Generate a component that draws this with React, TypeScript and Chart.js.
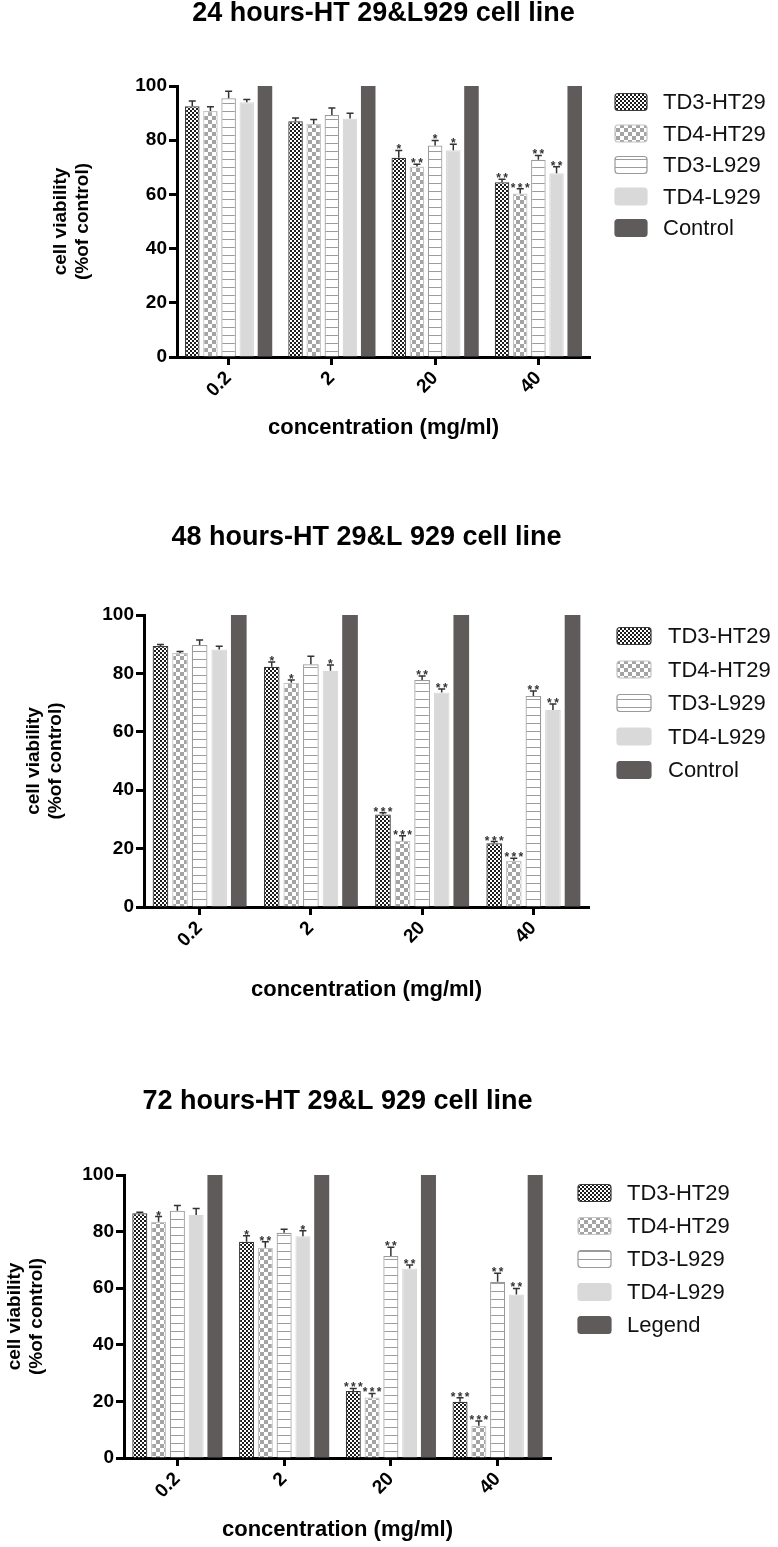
import React, { useEffect, useRef } from 'react';
import { Chart, registerables } from 'chart.js';

Chart.register(...registerables);

// ---------- DATA ----------
const categories = ['0.2', '2', '20', '40'];
const seriesLabels = ['TD3-HT29', 'TD4-HT29', 'TD3-L929', 'TD4-L929'];
const controlValues = [100, 100, 100, 100];

// 24 hours
const h24TD3HT29 = [92.5, 87.0, 73.5, 64.5];
const h24TD4HT29 = [90.8, 86.0, 70.3, 60.3];
const h24TD3L929 = [95.5, 89.3, 78.0, 72.8];
const h24TD4L929 = [94.0, 88.0, 76.3, 67.8];
const h24TD3HT29Err = [2.0, 1.2, 2.7, 1.1];
const h24TD4HT29Err = [1.5, 1.6, 0.8, 1.8];
const h24TD3L929Err = [2.6, 2.6, 1.9, 1.6];
const h24TD4L929Err = [1.0, 1.9, 2.2, 2.4];
const h24TD3HT29Sig = ['', '', '*', '**'];
const h24TD4HT29Sig = ['', '', '**', '***'];
const h24TD3L929Sig = ['', '', '*', '**'];
const h24TD4L929Sig = ['', '', '*', '**'];

// 48 hours
const h48TD3HT29 = [89.4, 82.3, 31.7, 21.8];
const h48TD4HT29 = [87.0, 76.8, 22.7, 15.8];
const h48TD3L929 = [89.7, 83.1, 77.7, 72.3];
const h48TD4L929 = [88.2, 80.9, 73.5, 67.5];
const h48TD3HT29Err = [0.5, 1.6, 0.6, 0.6];
const h48TD4HT29Err = [0.5, 0.9, 1.7, 0.9];
const h48TD3L929Err = [1.7, 2.8, 1.4, 1.7];
const h48TD4L929Err = [1.1, 2.0, 1.2, 2.0];
const h48TD3HT29Sig = ['', '*', '***', '***'];
const h48TD4HT29Sig = ['', '*', '***', '***'];
const h48TD3L929Sig = ['', '', '**', '**'];
const h48TD4L929Sig = ['', '*', '**', '**'];

// 72 hours
const h72TD3HT29 = [86.5, 76.4, 23.7, 19.9];
const h72TD4HT29 = [83.5, 74.3, 21.4, 11.4];
const h72TD3L929 = [87.4, 79.6, 71.4, 62.3];
const h72TD4L929 = [85.9, 78.4, 67.0, 57.8];
const h72TD3HT29Err = [0.3, 2.1, 0.9, 1.4];
const h72TD4HT29Err = [1.8, 2.1, 1.4, 1.7];
const h72TD3L929Err = [1.8, 1.2, 3.1, 3.0];
const h72TD4L929Err = [2.3, 1.9, 1.2, 2.1];
const h72TD3HT29Sig = ['', '*', '***', '***'];
const h72TD4HT29Sig = ['*', '**', '***', '***'];
const h72TD3L929Sig = ['', '', '**', '**'];
const h72TD4L929Sig = ['', '*', '**', '**'];

const yTicks = [0, 20, 40, 60, 80, 100];
const yTitleLines = ['cell viability', '(%of control)'];
const xTitle = 'concentration (mg/ml)';

const FONT = "'Liberation Sans', Arial, Helvetica, sans-serif";

const panels = [
  {
    title: '24 hours-HT 29&L929 cell line',
    controlLabel: 'Control',
    values: [h24TD3HT29, h24TD4HT29, h24TD3L929, h24TD4L929],
    errors: [h24TD3HT29Err, h24TD4HT29Err, h24TD3L929Err, h24TD4L929Err],
    sigs: [h24TD3HT29Sig, h24TD4HT29Sig, h24TD3L929Sig, h24TD4L929Sig],
    top: 0, height: 470,
    pad: { top: 0, left: 0, right: 188, bottom: 13 },
    titlePadBottom: 59,
    yWidth: 177, xHeight: 100,
    yTitlePadTop: 49, xTitlePadBottom: 16,
    legend: { boxX: 615, y0: 102, step: 31.5, textX: 663, boxW: 32 },
  },
  {
    title: '48 hours-HT 29&L 929 cell line',
    controlLabel: 'Control',
    values: [h48TD3HT29, h48TD4HT29, h48TD3L929, h48TD4L929],
    errors: [h48TD3HT29Err, h48TD4HT29Err, h48TD3L929Err, h48TD4L929Err],
    sigs: [h48TD3HT29Sig, h48TD4HT29Sig, h48TD3L929Sig, h48TD4L929Sig],
    top: 500, height: 520,
    pad: { top: 24, left: 0, right: 189, bottom: 13 },
    titlePadBottom: 64,
    yWidth: 144, xHeight: 100,
    yTitlePadTop: 22, xTitlePadBottom: 4,
    legend: { boxX: 617, y0: 136, step: 33.5, textX: 668, boxW: 34 },
  },
  {
    title: '72 hours-HT 29&L 929 cell line',
    controlLabel: 'Legend',
    values: [h72TD3HT29, h72TD4HT29, h72TD3L929, h72TD4L929],
    errors: [h72TD3HT29Err, h72TD4HT29Err, h72TD3L929Err, h72TD4L929Err],
    sigs: [h72TD3HT29Sig, h72TD4HT29Sig, h72TD3L929Sig, h72TD4L929Sig],
    top: 1060, height: 487,
    pad: { top: 28, left: 0, right: 227, bottom: 4 },
    titlePadBottom: 60,
    yWidth: 124, xHeight: 85,
    yTitlePadTop: 3, xTitlePadBottom: 0,
    legend: { boxX: 578, y0: 133, step: 33, textX: 627, boxW: 33 },
  },
];

function makePattern(w: number, h: number, draw: (c: CanvasRenderingContext2D) => void) {
  const c = document.createElement('canvas');
  c.width = w;
  c.height = h;
  const ctx = c.getContext('2d')!;
  draw(ctx);
  return ctx.createPattern(c, 'repeat')!;
}

function makeStyles() {
  const fine = makePattern(4, 4, (c) => {
    c.fillStyle = '#ffffff';
    c.fillRect(0, 0, 4, 4);
    c.fillStyle = '#1c1c1c';
    c.fillRect(0, 0, 2, 2);
    c.fillRect(2, 2, 2, 2);
  });
  const coarse = makePattern(8, 8, (c) => {
    c.fillStyle = '#ffffff';
    c.fillRect(0, 0, 8, 8);
    c.fillStyle = '#a4a4a4';
    c.fillRect(0, 0, 4, 4);
    c.fillRect(4, 4, 4, 4);
  });
  const lines = makePattern(8, 8, (c) => {
    c.fillStyle = '#ffffff';
    c.fillRect(0, 0, 8, 8);
    c.fillStyle = '#9c9c9c';
    c.fillRect(0, 7, 8, 1);
  });
  return [
    { bg: fine, border: '#3a3a3a' },
    { bg: coarse, border: '#c4c4c4' },
    { bg: lines, border: '#9a9a9a' },
    { bg: '#d9d9d9', border: '#d9d9d9' },
    { bg: '#5f5b5a', border: '#5f5b5a' },
  ];
}

function roundRect(ctx: CanvasRenderingContext2D, x: number, y: number, w: number, h: number, r: number) {
  ctx.beginPath();
  ctx.moveTo(x + r, y);
  ctx.lineTo(x + w - r, y);
  ctx.quadraticCurveTo(x + w, y, x + w, y + r);
  ctx.lineTo(x + w, y + h - r);
  ctx.quadraticCurveTo(x + w, y + h, x + w - r, y + h);
  ctx.lineTo(x + r, y + h);
  ctx.quadraticCurveTo(x, y + h, x, y + h - r);
  ctx.lineTo(x, y + r);
  ctx.quadraticCurveTo(x, y, x + r, y);
  ctx.closePath();
}

function Panel({ cfg }: { cfg: any }) {
  const ref = useRef<HTMLCanvasElement>(null);
  useEffect(() => {
    const canvas = ref.current!;
    const styles = makeStyles();
    const datasets: any[] = cfg.values.map((vals: number[], i: number) => ({
      label: seriesLabels[i],
      data: vals,
      errors: cfg.errors[i],
      sigs: cfg.sigs[i],
      backgroundColor: styles[i].bg,
      borderColor: styles[i].border,
      borderWidth: 1.2,
      categoryPercentage: 0.88,
      barPercentage: 0.8,
    }));
    datasets.push({
      label: cfg.controlLabel,
      data: controlValues,
      backgroundColor: styles[4].bg,
      borderColor: styles[4].border,
      borderWidth: 0,
      categoryPercentage: 0.88,
      barPercentage: 0.8,
    });

    const decor = {
      id: 'decor',
      afterDatasetsDraw(chart: any) {
        const ctx = chart.ctx as CanvasRenderingContext2D;
        const yScale = chart.scales.y;
        ctx.save();
        chart.data.datasets.forEach((ds: any, d: number) => {
          if (!ds.errors) return;
          const meta = chart.getDatasetMeta(d);
          meta.data.forEach((bar: any, i: number) => {
            const v = ds.data[i];
            const e = ds.errors[i];
            const yTop = yScale.getPixelForValue(v + e);
            const yVal = yScale.getPixelForValue(v);
            ctx.strokeStyle = '#333';
            ctx.lineWidth = 1.5;
            ctx.beginPath();
            ctx.moveTo(bar.x, yVal);
            ctx.lineTo(bar.x, yTop);
            ctx.moveTo(bar.x - 3.5, yTop);
            ctx.lineTo(bar.x + 3.5, yTop);
            ctx.stroke();
            const s = ds.sigs[i];
            if (s) {
              ctx.fillStyle = '#333';
              ctx.font = `bold 12px ${FONT}`;
              ctx.textAlign = 'center';
              ctx.textBaseline = 'alphabetic';
              ctx.fillText(s.split('').join('\u2009'), bar.x, yTop + 3);
            }
          });
        });
        ctx.restore();
      },
      afterDraw(chart: any) {
        const ctx = chart.ctx as CanvasRenderingContext2D;
        const lg = cfg.legend;
        ctx.save();
        chart.data.datasets.forEach((ds: any, d: number) => {
          const cy = lg.y0 + d * lg.step;
          const bh = 17;
          roundRect(ctx, lg.boxX, cy - bh / 2, lg.boxW, bh, 3);
          ctx.fillStyle = ds.backgroundColor;
          ctx.fill();
          ctx.strokeStyle = ds.borderColor;
          ctx.lineWidth = 1.2;
          ctx.stroke();
          ctx.fillStyle = '#111';
          ctx.font = `22px ${FONT}`;
          ctx.textAlign = 'left';
          ctx.textBaseline = 'middle';
          ctx.fillText(ds.label, lg.textX, cy + 1);
        });
        ctx.restore();
      },
    };

    const chart = new Chart(canvas, {
      type: 'bar',
      data: { labels: categories, datasets },
      options: {
        responsive: false,
        animation: false,
        devicePixelRatio: 1,
        layout: { padding: cfg.pad },
        plugins: {
          legend: { display: false },
          tooltip: { enabled: false },
          title: {
            display: true,
            text: cfg.title,
            fullSize: false,
            color: '#000',
            font: { family: FONT, size: 27, weight: 'bold', lineHeight: 1 },
            padding: { top: 0, bottom: cfg.titlePadBottom },
          },
        },
        scales: {
          x: {
            offset: true,
            afterFit: (scale: any) => { scale.height = cfg.xHeight; },
            grid: {
              display: true,
              offset: false,
              drawOnChartArea: false,
              drawTicks: true,
              tickLength: 8,
              tickWidth: 3,
              tickColor: '#000',
            },
            border: { display: true, color: '#000', width: 3 },
            ticks: {
              color: '#000',
              font: { family: FONT, size: 19, weight: 'bold' },
              minRotation: 45,
              maxRotation: 45,
              padding: 2,
            },
            title: {
              display: true,
              text: xTitle,
              color: '#000',
              font: { family: FONT, size: 22, weight: 'bold', lineHeight: 1.2 },
              padding: { top: 0, bottom: cfg.xTitlePadBottom },
            },
          },
          y: {
            min: 0,
            max: 100,
            afterFit: (scale: any) => { scale.width = cfg.yWidth; },
            afterBuildTicks: (scale: any) => { scale.ticks = yTicks.map((v) => ({ value: v })); },
            grid: {
              display: true,
              drawOnChartArea: false,
              drawTicks: true,
              tickLength: 8,
              tickWidth: 3,
              tickColor: '#000',
            },
            border: { display: true, color: '#000', width: 3 },
            ticks: {
              color: '#000',
              font: { family: FONT, size: 19, weight: 'bold' },
              padding: 2,
            },
            title: {
              display: true,
              text: yTitleLines,
              color: '#000',
              font: { family: FONT, size: 19, weight: 'bold', lineHeight: 1.2 },
              padding: { top: cfg.yTitlePadTop, bottom: 0 },
            },
          },
        },
      } as any,
      plugins: [decor],
    });
    return () => chart.destroy();
  }, [cfg]);
  return (
    <canvas
      ref={ref}
      width={778}
      height={cfg.height}
      style={{ position: 'absolute', left: 0, top: cfg.top, width: 778, height: cfg.height }}
    />
  );
}

export default function App() {
  return (
    <div style={{ position: 'absolute', left: 0, top: 0, width: 778, height: 1547, background: '#fff', overflow: 'hidden' }}>
      {panels.map((p, i) => (
        <Panel key={i} cfg={p} />
      ))}
    </div>
  );
}
